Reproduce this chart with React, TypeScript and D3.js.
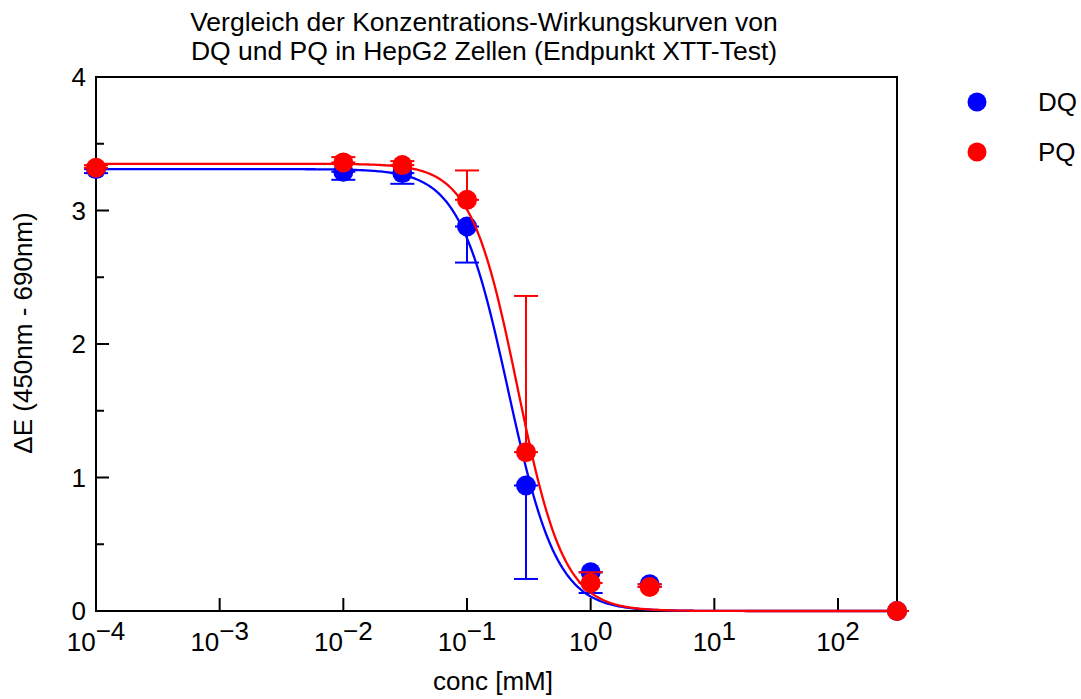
import React from 'react';
import * as d3 from 'd3';

// measured concentrations [mM]
const conc = [1e-4, 0.01, 0.03, 0.1, 0.3, 1, 3, 300];

// DQ: mean and error (drawn downward)
const dqMean = [3.31, 3.29, 3.28, 2.88, 0.94, 0.29, 0.2, 0];
const dqErr = [0.03, 0.06, 0.08, 0.27, 0.7, 0.155, 0.02, 0];

// PQ: mean and error (drawn upward)
const pqMean = [3.32, 3.36, 3.34, 3.08, 1.19, 0.21, 0.18, 0];
const pqErr = [0.02, 0.04, 0.03, 0.22, 1.17, 0.08, 0.02, 0];

// fitted sigmoid parameters: [top, bottom, IC50, hill]
const dqFit = [3.31, 0, 0.215, 2.2];
const pqFit = [3.35, 0, 0.256, 2.31];

const xTicks = [-4, -3, -2, -1, 0, 1, 2];
const yTicks = [0, 1, 2, 3, 4];
const yMinor = [0.5, 1.5, 2.5, 3.5];

const titleLines = [
  'Vergleich der Konzentrations-Wirkungskurven von',
  'DQ und PQ in HepG2 Zellen (Endpunkt XTT-Test)',
];

const series = [
  { name: 'DQ', color: '#0000ff', mean: dqMean, err: dqErr, dir: -1, fit: dqFit },
  { name: 'PQ', color: '#ff0000', mean: pqMean, err: pqErr, dir: 1, fit: pqFit },
];

const W = 1081;
const H = 699;
const margin = { left: 96, right: 184, top: 77, bottom: 88 };
const font = '"Liberation Sans", Arial, sans-serif';

const App = () => {
  const x = d3.scaleLog().domain([1e-4, 300]).range([margin.left, W - margin.right]);
  const y = d3.scaleLinear().domain([0, 4]).range([H - margin.bottom, margin.top]);
  const [x0, x1] = x.range();
  const [y0, y1] = y.range();

  const logSteps = d3.range(0, 401).map(i => -4 + (i / 400) * (Math.log10(300) + 4));
  const curve = (p) => {
    const [top, bottom, ic50, h] = p;
    const line = d3.line()
      .x(l => x(Math.pow(10, l)))
      .y(l => y(bottom + (top - bottom) / (1 + Math.pow(Math.pow(10, l) / ic50, h))));
    return line(logSteps);
  };

  const cap = 12;
  const r = 10;

  return (
    <svg width={W} height={H} style={{ position: 'absolute', left: 0, top: 0, background: '#fff' }}
      fontFamily={font}>
      {/* title */}
      {titleLines.map((t, i) => (
        <text key={i} x={484} y={31 + i * 29} textAnchor="middle" fontSize={26.5}>{t}</text>
      ))}

      {/* frame */}
      <rect x={x0} y={y1} width={x1 - x0} height={y0 - y1} fill="none" stroke="#000" strokeWidth={2} />

      {/* x ticks */}
      {xTicks.map(e => (
        <g key={e}>
          <line x1={x(Math.pow(10, e))} x2={x(Math.pow(10, e))} y1={y0} y2={y0 - 13} stroke="#000" strokeWidth={2} />
          <text x={x(Math.pow(10, e))} y={651} textAnchor="middle" fontSize={26}>
            <tspan>10</tspan>
            <tspan dy={-11}>{e < 0 ? '\u2212' + Math.abs(e) : String(e)}</tspan>
          </text>
        </g>
      ))}

      {/* y ticks */}
      {yTicks.map(v => (
        <g key={v}>
          <line x1={x0} x2={x0 + 13} y1={y(v)} y2={y(v)} stroke="#000" strokeWidth={2} />
          <text x={86} y={y(v) + 9} textAnchor="end" fontSize={26}>{v}</text>
        </g>
      ))}
      {yMinor.map(v => (
        <line key={v} x1={x0} x2={x0 + 8} y1={y(v)} y2={y(v)} stroke="#000" strokeWidth={2} />
      ))}

      {/* axis labels */}
      <text x={493} y={690} textAnchor="middle" fontSize={26}>conc [mM]</text>
      <text transform={`translate(32,333) rotate(-90)`} textAnchor="middle" fontSize={26}>
        ΔE (450nm - 690nm)
      </text>

      {/* data */}
      {series.map(s => (
        <g key={s.name}>
          <path d={curve(s.fit)} fill="none" stroke={s.color} strokeWidth={2.3} />
          {conc.map((c, i) => {
            const cx = x(c);
            const cy = y(s.mean[i]);
            const ey = y(s.mean[i] + s.dir * s.err[i]);
            return (
              <g key={i}>
                <line x1={cx} x2={cx} y1={cy} y2={ey} stroke={s.color} strokeWidth={2} />
                <line x1={cx - cap} x2={cx + cap} y1={ey} y2={ey} stroke={s.color} strokeWidth={2} />
                <line x1={cx - cap} x2={cx + cap} y1={cy} y2={cy} stroke={s.color} strokeWidth={2} />
                <circle cx={cx} cy={cy} r={r} fill={s.color} />
              </g>
            );
          })}
        </g>
      ))}

      {/* legend */}
      {series.map((s, i) => (
        <g key={s.name}>
          <circle cx={977} cy={102 + i * 50} r={9.5} fill={s.color} />
          <text x={1038} y={111 + i * 50} fontSize={26}>{s.name}</text>
        </g>
      ))}
    </svg>
  );
};

export default App;
